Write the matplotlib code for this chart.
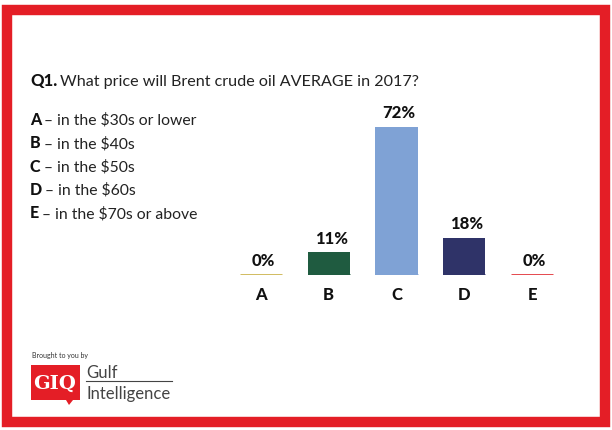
import matplotlib.pyplot as plt
from matplotlib.patches import Rectangle, Polygon
from matplotlib.lines import Line2D

# data
categories = ['A', 'B', 'C', 'D', 'E']
shares = [0, 11, 72, 18, 0]
bar_colors = ['#CDB552', '#1F5B40', '#7FA2D5', '#2F3368', '#E2383D']
options = [
    ('A', 'in the $30s or lower'),
    ('B', 'in the $40s'),
    ('C', 'in the $50s'),
    ('D', 'in the $60s'),
    ('E', 'in the $70s or above'),
]
question = 'What price will Brent crude oil AVERAGE in 2017?'

W, H = 612, 431
plt.rcParams['font.family'] = ['Lato', 'DejaVu Sans']
fig = plt.figure(figsize=(W / 100, H / 100), dpi=100)
fig.patch.set_facecolor('white')
renderer = fig.canvas.get_renderer()


def px(x, y):
    # pixel (from top-left) -> figure fraction
    return x / W, 1 - y / H


def right_of(t):
    return t.get_window_extent(renderer).x1


# red frame
red = '#E41E26'
fig.patches.append(Rectangle(px(7, 423), 598 / W, 412 / H, transform=fig.transFigure,
                             fill=False, edgecolor=red, linewidth=7.5))

# bar chart
ax = fig.add_axes([227 / W, 1 - 276 / H, 339 / W, 176 / H])
xs = list(range(len(categories)))
ax.bar(xs, shares, width=0.62, color=bar_colors)
ax.hlines([0] * len(xs), [x - 0.31 for x in xs], [x + 0.31 for x in xs],
          colors=bar_colors, linewidth=2)
for x, v in zip(xs, shares):
    ax.text(x + 0.04, v + 3.3, f'{v}%', ha='center', va='bottom',
            fontsize=12, fontweight='black', color='#111111')
ax.set_xlim(-0.5, 4.5)
ax.set_ylim(0, 85.5)
ax.set_xticks(xs)
ax.set_xticklabels(categories, fontsize=12, fontweight='black', color='#111111')
ax.tick_params(axis='x', length=0, pad=8)
ax.set_yticks([])
for s in ax.spines.values():
    s.set_visible(False)
ax.patch.set_alpha(0)

# question + options
q = fig.text(*px(30, 86), 'Q1.', fontsize=12, fontweight='black', color='#111111')
fig.text((right_of(q) + 3) / W, 1 - 86 / H, question, fontsize=11.6, color='#222222')
for i, (letter, txt) in enumerate(options):
    y = 125 + i * 23.3
    t = fig.text(*px(30, y), letter, fontsize=11.5, fontweight='black', color='#111111')
    fig.text((right_of(t) + 3) / W, 1 - y / H, '\u2013 ' + txt, fontsize=11.3,
             color='#222222')

# footer logo
fig.text(*px(32, 358), 'Brought to you by', fontsize=5, color='#333333')
fig.patches.append(Rectangle(px(31, 401), 49 / W, 35 / H, transform=fig.transFigure,
                             facecolor=red, edgecolor='none'))
fig.patches.append(Polygon([px(66, 401), px(73, 401), px(69, 406)], closed=True,
                           transform=fig.transFigure, facecolor=red, edgecolor='none'))
fig.text(*px(55, 384), 'GIQ', fontsize=14, fontweight='bold', family='DejaVu Serif',
         color='white', ha='center', va='center')
fig.text(*px(86, 378), 'Gulf', fontsize=12, color='#444444')
fig.lines.append(Line2D([86 / W, 172 / W], [1 - 382 / H, 1 - 382 / H],
                        transform=fig.transFigure, color='#444444', linewidth=0.8))
fig.text(*px(86, 399), 'Intelligence', fontsize=12, color='#444444')

fig.savefig('out.png', dpi=100)
